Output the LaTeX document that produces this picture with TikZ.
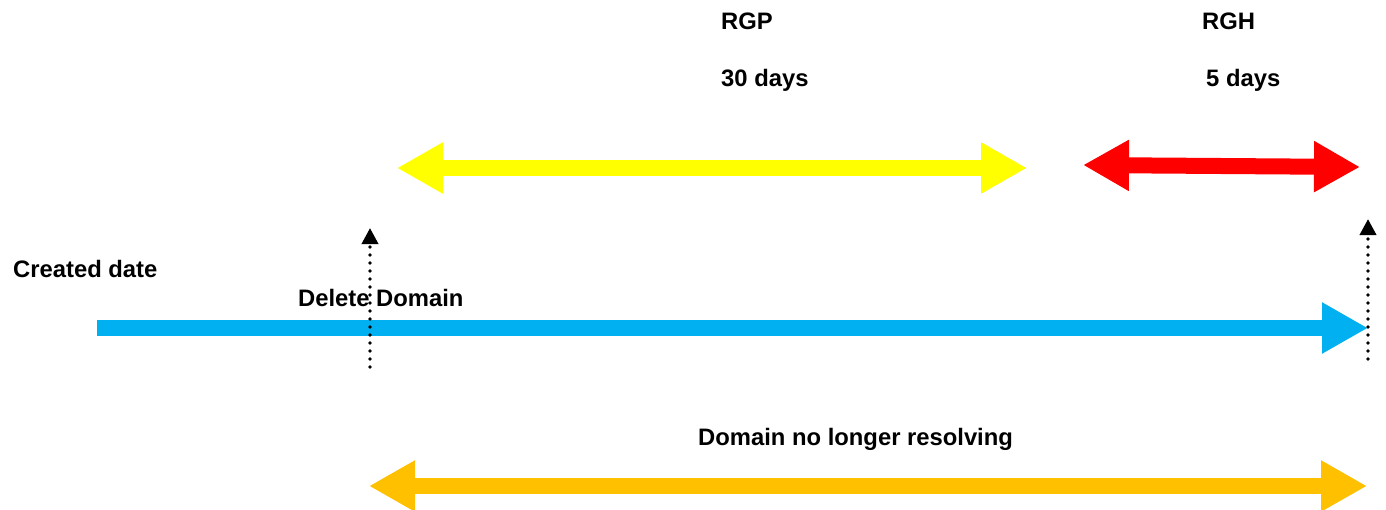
\documentclass[tikz,border=0pt]{standalone}
\usepackage{fontspec}
\setmainfont{Liberation Sans}
\usetikzlibrary{arrows.meta}
\definecolor{cYellow}{HTML}{FFFF00}
\definecolor{cRed}{HTML}{FF0000}
\definecolor{cBlue}{HTML}{00B0F0}
\definecolor{cOrange}{HTML}{FFC000}
\tikzset{
  lbl/.style={anchor=base west, inner sep=0pt, font=\fontsize{23.8}{28}\selectfont\bfseries},
  blockarrow/.style={line width=16pt, {Triangle[length=46pt,width=48pt]}-{Triangle[length=46pt,width=48pt]}},
  blockright/.style={line width=16pt, -{Triangle[length=46pt,width=48pt]}},
  dotline/.style={black, line width=3.6pt, line cap=round, dash pattern=on 0pt off 8pt, -{Triangle[length=16pt,width=16pt,line cap=butt,line join=miter]}}
}
\begin{document}
\begin{tikzpicture}[x=1pt,y=-1pt]
\useasboundingbox (0,0) rectangle (1386,509);
% texts
\node[lbl] (rgp) at (721,29) {RGP};
\node[lbl] (rgpd) at (721,86) {30 days};
\node[lbl] (rgh) at (1202,29) {RGH};
\node[lbl] (rghd) at (1206,86) {5 days};
\node[lbl] (created) at (13,277) {Created date};
\node[lbl] (delete) at (298,306) {Delete Domain};
\node[lbl] (noresolve) at (698,445) {Domain no longer resolving};
% coordinates
\coordinate (yl) at (397,168);
\coordinate (yr) at (1027,168);
\coordinate (rl) at (1083,165);
\coordinate (rr) at (1360,167);
\coordinate (bl) at (97,328);
\coordinate (br) at (1368,328);
\coordinate (ol) at (369,486);
\coordinate (or) at (1367,486);
\coordinate (d1b) at (370,367);
\coordinate (d1t) at (370,228);
\coordinate (d2b) at (1368,359);
\coordinate (d2t) at (1368,219);
% arrows
\draw[blockarrow, cYellow] (yl) -- (yr);
\draw[blockarrow, cRed] (rl) -- (rr);
\draw[blockright, cBlue] (bl) -- (br);
\draw[blockarrow, cOrange] (ol) -- (or);
\draw[dotline] (d1b) -- (d1t);
\draw[dotline] (d2b) -- (d2t);
\end{tikzpicture}
\end{document}
